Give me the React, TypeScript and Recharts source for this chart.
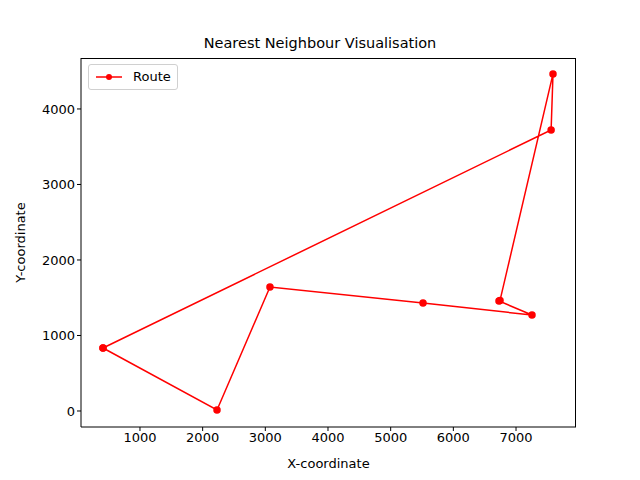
import { LineChart, Line, XAxis, YAxis, Label } from 'recharts'

// Route visiting order (x, y)
const routeX = [410, 2229, 3074, 5516, 7255, 6728, 6745, 7590, 7560, 410]
const routeY = [834, 13, 1642, 1430, 1271, 1457, 1465, 4464, 3722, 834]
const xTicks = [1000, 2000, 3000, 4000, 5000, 6000, 7000]
const yTicks = [0, 1000, 2000, 3000, 4000]

const data = routeX.map((x, i) => ({ x, y: routeY[i] }))
const font = 'DejaVu Sans, sans-serif'

export default function App() {
  return (
    <div style={{ position: 'absolute', left: 0, top: 0, width: 640, height: 480, background: '#fff', fontFamily: font }}>
      <div style={{ position: 'absolute', top: 35, width: 640, textAlign: 'center', fontSize: 14.5, color: '#000' }}>
        Nearest Neighbour Visualisation
      </div>
      <LineChart width={640} height={480} data={data} margin={{ top: 58, right: 64, bottom: 0, left: 0 }}>
        <XAxis type="number" dataKey="x" domain={[59, 7957]} ticks={xTicks} height={53}
          tick={{ fontSize: 13, fill: '#000', fontFamily: font }} tickLine={{ stroke: '#000' }} tickSize={4}
          axisLine={{ stroke: '#000' }}>
          <Label value="X-coordinate" position="insideBottom" offset={12} style={{ fontSize: 13, fill: '#000', fontFamily: font }} />
        </XAxis>
        <YAxis type="number" dataKey="y" domain={[-212, 4675]} ticks={yTicks} width={81}
          tick={{ fontSize: 13, fill: '#000', fontFamily: font }} tickLine={{ stroke: '#000' }} tickSize={4}
          axisLine={{ stroke: '#000' }}>
          <Label value="Y-coordinate" angle={-90} position="insideLeft" offset={20} style={{ fontSize: 13, fill: '#000', fontFamily: font, textAnchor: 'middle' }} />
        </YAxis>
        <Line type="linear" dataKey="y" stroke="#ff0000" strokeWidth={1.5} dot={{ r: 3, fill: '#ff0000', stroke: '#ff0000' }} isAnimationActive={false} />
      </LineChart>
      <div style={{ position: 'absolute', left: 81, top: 58, width: 495, height: 369, borderTop: '1px solid #000', borderRight: '1px solid #000', boxSizing: 'border-box', pointerEvents: 'none' }} />
      <div style={{ position: 'absolute', left: 88, top: 64, width: 90, height: 26, border: '1px solid #d0d0d0', borderRadius: 3, background: '#fff', fontSize: 13, boxSizing: 'border-box' }}>
        <svg width={30} height={24} style={{ position: 'absolute', left: 5, top: 0 }}>
          <line x1={2} y1={12} x2={28} y2={12} stroke="#ff0000" strokeWidth={1.5} />
          <circle cx={15} cy={12} r={3} fill="#ff0000" />
        </svg>
        <span style={{ position: 'absolute', left: 44, top: 4 }}>Route</span>
      </div>
    </div>
  )
}
